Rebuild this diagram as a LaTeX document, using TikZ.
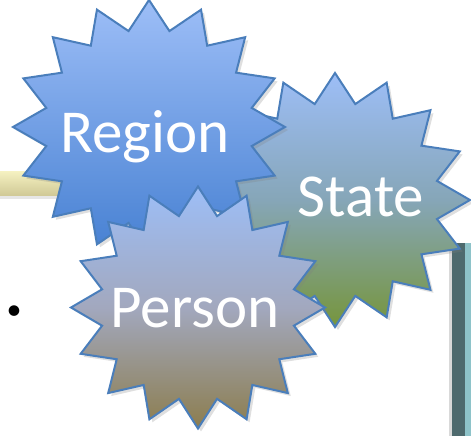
\documentclass[tikz,border=0pt]{standalone}
\usepackage{fontspec}
\setmainfont{Carlito}
\usetikzlibrary{shadows}

\definecolor{burstline}{HTML}{4A7EBB}
\definecolor{skytop}{HTML}{9DBEF7}
\definecolor{regionbot}{HTML}{4680D2}
\definecolor{statemid}{HTML}{86A6B8}
\definecolor{statebot}{HTML}{76953C}
\definecolor{personmid}{HTML}{A2A8BE}
\definecolor{personbot}{HTML}{8C7D4E}
\definecolor{bartop}{HTML}{F4F0C0}
\definecolor{barbot}{HTML}{CFC895}
\definecolor{tealdark}{HTML}{4E6A6E}
\definecolor{teallight}{HTML}{8EC3C9}

% 16-point starburst round a centre, x radius and y radius
\newcommand{\burstpath}[3]{[shift={(#1)}] (0:#2 and #3)
  \foreach \k [evaluate=\k as \r using {ifthenelse(mod(\k,2)==0,1,0.77)}] in {1,...,31}
  { -- ({\k*11.25}:{\r*#2} and {\r*#3}) } -- cycle}

\begin{document}
\begin{tikzpicture}
    [
      x=1pt, y=1pt,
      burst/.style={draw=burstline,line width=2pt,line join=miter,
        drop shadow={opacity=0.25,shadow xshift=3pt,shadow yshift=-3pt}},
      regionfill/.style={top color=skytop,bottom color=regionbot},
      statefill/.style={top color=skytop,bottom color=statebot,middle color=statemid},
      personfill/.style={top color=skytop,bottom color=personbot,middle color=personmid},
      burstword/.style={text=white,inner sep=0pt,anchor=base,
        font=\fontsize{61}{62}\selectfont},
    ]

    \useasboundingbox (0,0) rectangle (471,436);

    % bars behind the stars
    \shade [top color=bartop,bottom color=barbot,
      drop shadow={opacity=0.2,shadow xshift=0pt,shadow yshift=-3pt}]
      (0,240) rectangle (200,264);
    \fill [black!15] (449,0) rectangle (452,193);
    \fill [tealdark] (452,0) rectangle (465,193);
    \fill [teallight] (465,0) rectangle (471,193);

    \node (bullet) [anchor=base,inner sep=0pt,font=\fontsize{30}{30}\selectfont]
      at (14,116) {\textbullet};

    \coordinate (state-c) at (335,236);
    \coordinate (region-c) at (149,309);
    \coordinate (person-c) at (198,128.5);

    \path [burst,statefill] \burstpath{state-c}{135}{127};
    \path [burst,regionfill] \burstpath{region-c}{136}{127};
    \path [burst,personfill] \burstpath{person-c}{127}{121};

    \node (region) [burstword] at (145,283) {Region};
    \node (state) [burstword] at (361,219) {State};
    \node (person) [burstword] at (195,108) {Person};

  \end{tikzpicture}
\end{document}
